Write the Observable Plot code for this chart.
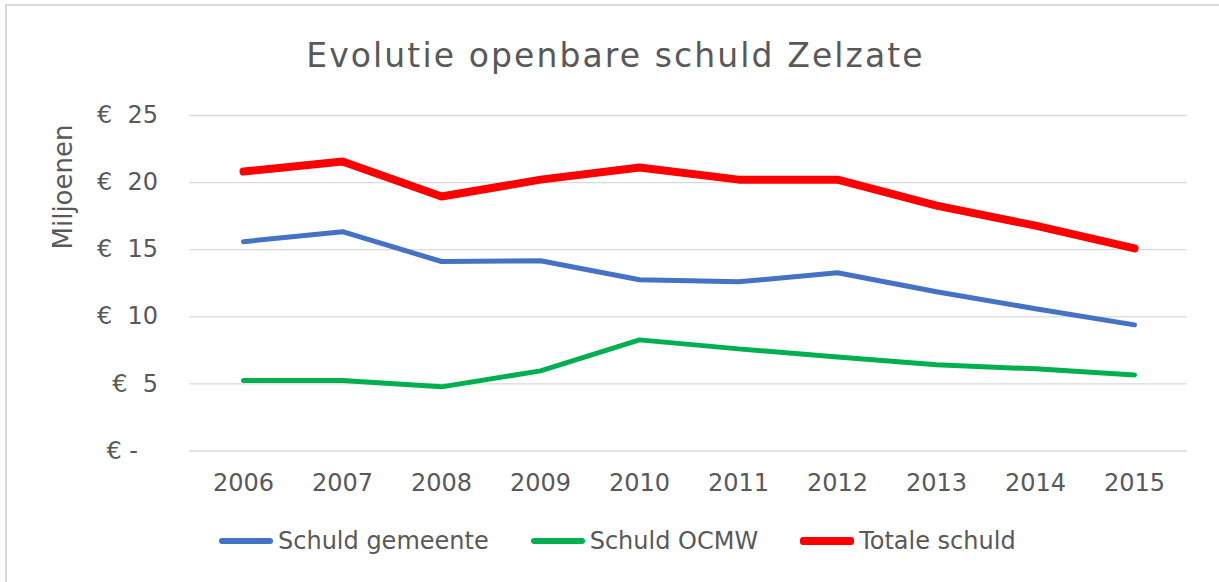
<!DOCTYPE html>
<html><head><meta charset="utf-8">
<script src="https://cdn.jsdelivr.net/npm/d3@7"></script>
<script src="https://cdn.jsdelivr.net/npm/@observablehq/plot@0.6"></script>
<style>
body{margin:0;background:#fff;font-family:"DejaVu Sans",Verdana,sans-serif;color:#595959;}
#wrap{position:relative;width:1219px;height:582px;overflow:hidden;background:#fff;}
#frame{position:absolute;left:5px;top:4px;width:1260px;height:640px;border:2px solid #d9d9d9;box-sizing:border-box;}
#title{position:absolute;left:6px;width:1219px;top:38.8px;text-align:center;font-size:33px;line-height:33px;letter-spacing:2.1px;white-space:nowrap;}
#ylabel{position:absolute;left:63px;top:187px;transform:translate(-50%,-50%) rotate(-90deg);font-size:26px;line-height:26px;white-space:nowrap;}
#chart{position:absolute;left:0;top:90px;}
#legend{position:absolute;left:219px;top:527px;height:28px;display:flex;align-items:center;font-size:24px;line-height:28px;white-space:nowrap;}
.item{display:flex;align-items:center;margin-right:42px;}
.sw{width:54px;height:6px;border-radius:3px;margin-right:5px;}
</style>
</head><body>
<div id="wrap">
  <div id="frame"></div>
  <div id="title">Evolutie openbare schuld Zelzate</div>
  <div id="ylabel">Miljoenen</div>
  <div id="chart"></div>
  <div id="legend"></div>
</div>
<script>
const years = [2006, 2007, 2008, 2009, 2010, 2011, 2012, 2013, 2014, 2015];
const schuldGemeente = [15.60, 16.34, 14.12, 14.18, 12.76, 12.61, 13.28, 11.87, 10.60, 9.40];
const schuldOCMW = [5.25, 5.25, 4.78, 5.97, 8.28, 7.61, 7.01, 6.42, 6.12, 5.67];
const totaleSchuld = [20.82, 21.57, 18.96, 20.22, 21.12, 20.22, 20.22, 18.28, 16.79, 15.10];
const seriesNames = ["Schuld gemeente", "Schuld OCMW", "Totale schuld"];
const seriesColors = ["#4472C4", "#00B050", "#FF0000"];
const seriesWidths = [5, 5, 8];
const yTicks = [0, 5, 10, 15, 20, 25];
const yTickLabels = ["€\u00a0-\u00a0\u00a0\u2009", "€\u00a0\u00a05", "€\u00a0\u00a010", "€\u00a0\u00a015", "€\u00a0\u00a020", "€\u00a0\u00a025"];

const seriesValues = [schuldGemeente, schuldOCMW, totaleSchuld];
const tables = seriesValues.map((vals, i) => years.map((y, j) => ({year: y, value: vals[j], series: seriesNames[i]})));

const chart = Plot.plot({
  width: 1219,
  height: 420,
  marginTop: 25,
  marginBottom: 59.5,
  marginLeft: 189.5,
  marginRight: 32.5,
  style: {fontFamily: '"DejaVu Sans", Verdana, sans-serif', fontSize: "24px", color: "#595959", background: "transparent"},
  x: {type: "point", domain: years, padding: 0.5, axis: null},
  y: {domain: [0, 25], axis: null},
  marks: [
    Plot.ruleY(yTicks, {stroke: "#d9d9d9", strokeWidth: 1.3}),
    Plot.axisX({tickSize: 0, tickPadding: 22.5, tickFormat: d => String(d), label: null}),
    Plot.axisY(yTicks, {tickSize: 0, tickPadding: 32, tickFormat: d => yTickLabels[yTicks.indexOf(d)], label: null}),
    ...tables.map((t, i) => Plot.line(t, {x: "year", y: "value", stroke: seriesColors[i], strokeWidth: seriesWidths[i], strokeLinecap: "round", strokeLinejoin: "miter"}))
  ]
});
document.getElementById("chart").appendChild(chart);

const legend = document.getElementById("legend");
seriesNames.forEach((name, i) => {
  const it = document.createElement("div");
  it.className = "item";
  const sw = document.createElement("div");
  sw.className = "sw";
  sw.style.background = seriesColors[i];
  sw.style.height = (i === 2 ? 8 : 6) + "px";
  const tx = document.createElement("span");
  tx.textContent = name;
  it.appendChild(sw); it.appendChild(tx);
  legend.appendChild(it);
});
</script>
</body></html>
